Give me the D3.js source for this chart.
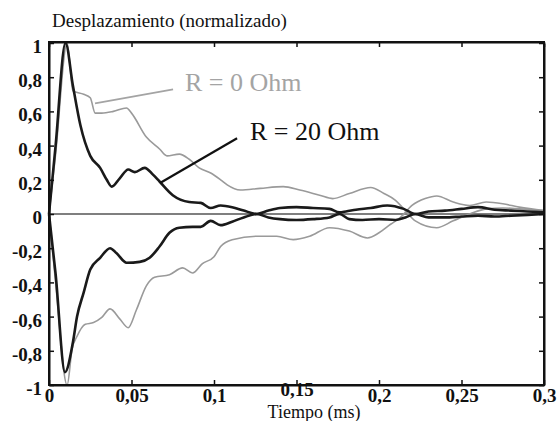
<!DOCTYPE html>
<html>
<head>
<meta charset="utf-8">
<script src="https://cdnjs.cloudflare.com/ajax/libs/d3/7.8.5/d3.min.js"></script>
<style>
  body { margin: 0; background: #fff; }
</style>
</head>
<body>
<div id="chart"></div>
<script>
// time (ms), displacement (normalised) - envelopes
var r20Upper = [[0,0],[0.004,0.4],[0.01,1],[0.0145,0.75],[0.019,0.52],[0.025,0.34],[0.031,0.27],[0.035,0.2],
  [0.038,0.16],[0.043,0.21],[0.048,0.26],[0.052,0.245],[0.058,0.27],[0.063,0.23],[0.067,0.19],[0.075,0.11],
  [0.085,0.07],[0.092,0.065],[0.098,0.035],[0.104,0.05],[0.111,0.04],[0.118,0.02],[0.126,0],[0.133,0.02],
  [0.14,0.035],[0.15,0.04],[0.16,0.035],[0.17,0.03],[0.176,0.01],[0.18,0.015],[0.186,0.025],[0.195,0.035],
  [0.205,0.05],[0.215,0.03],[0.222,0],[0.23,0.015],[0.24,0.02],[0.25,0.03],[0.26,0.04],[0.27,0.025],
  [0.28,0.02],[0.29,0.015],[0.3,0.01]];

var r20Lower = [[0,0],[0.004,-0.35],[0.0097,-0.925],[0.0145,-0.75],[0.017,-0.6],[0.021,-0.46],[0.025,-0.325],
  [0.031,-0.256],[0.037,-0.2],[0.041,-0.23],[0.047,-0.285],[0.055,-0.28],[0.061,-0.256],[0.067,-0.19],
  [0.073,-0.11],[0.079,-0.08],[0.087,-0.075],[0.092,-0.075],[0.098,-0.04],[0.104,-0.065],[0.111,-0.045],
  [0.118,-0.02],[0.126,0],[0.133,-0.02],[0.14,-0.03],[0.15,-0.035],[0.16,-0.03],[0.17,-0.02],[0.176,0],
  [0.182,-0.03],[0.19,-0.035],[0.2,-0.03],[0.21,-0.035],[0.216,-0.02],[0.222,0],[0.23,-0.02],[0.24,-0.02],
  [0.25,-0.015],[0.26,-0.01],[0.27,-0.015],[0.28,-0.01],[0.3,0]];

var r0Upper = [[0,0],[0.004,0.35],[0.011,1],[0.0145,0.72],[0.021,0.7],[0.025,0.68],[0.028,0.59],[0.032,0.59],
  [0.039,0.6],[0.047,0.62],[0.05,0.59],[0.059,0.45],[0.067,0.38],[0.0715,0.34],[0.079,0.35],[0.085,0.32],
  [0.091,0.27],[0.098,0.24],[0.104,0.2],[0.108,0.17],[0.116,0.14],[0.128,0.15],[0.142,0.16],[0.152,0.14],
  [0.164,0.11],[0.172,0.09],[0.182,0.12],[0.195,0.155],[0.203,0.12],[0.21,0.08],[0.215,0.03],[0.222,-0.04],
  [0.235,-0.08],[0.245,-0.04],[0.255,0],[0.265,0.03],[0.275,0.035],[0.285,0.03],[0.3,0.02]];

var r0Lower = [[0,0],[0.004,-0.4],[0.011,-1],[0.014,-0.79],[0.017,-0.715],[0.022,-0.645],[0.027,-0.635],
  [0.032,-0.605],[0.037,-0.555],[0.043,-0.615],[0.048,-0.665],[0.053,-0.56],[0.059,-0.42],[0.064,-0.37],
  [0.073,-0.355],[0.081,-0.315],[0.087,-0.345],[0.093,-0.29],[0.1,-0.25],[0.104,-0.19],[0.111,-0.15],
  [0.126,-0.13],[0.138,-0.13],[0.148,-0.15],[0.158,-0.13],[0.17,-0.08],[0.182,-0.1],[0.193,-0.14],[0.2,-0.11],
  [0.207,-0.06],[0.213,-0.02],[0.22,0.05],[0.228,0.09],[0.235,0.105],[0.245,0.07],[0.255,0.05],[0.265,0.07],
  [0.275,0.06],[0.285,0.04],[0.3,0.02]];

var xTicks = [0, 0.05, 0.1, 0.15, 0.2, 0.25, 0.3];
var xTickLabels = ["0", "0,05", "0,1", "0,15", "0,2", "0,25", "0,3"];
var yTicks = [1, 0.8, 0.6, 0.4, 0.2, 0, -0.2, -0.4, -0.6, -0.8, -1];
var yTickLabels = ["1", "0,8", "0,6", "0,4", "0,2", "0", "-0,2", "-0,4", "-0,6", "-0,8", "-1"];

// labels with leader lines, anchored in data units
var notes = [
  {text: "R = 0 Ohm", color: "#a4a4a4", at: [0.0824, 0.717], from: [0.0279, 0.647], to: [0.0752, 0.729]},
  {text: "R = 20 Ohm", color: "#111", at: [0.1218, 0.431], from: [0.0673, 0.181], to: [0.114, 0.443]}
];

var serif = "'Liberation Serif', 'Times New Roman', Times, serif";
var svgWidth = 558, svgHeight = 421;
var margin = {top: 42, right: 14, bottom: 36, left: 49};
var width = svgWidth - margin.left - margin.right;
var height = svgHeight - margin.top - margin.bottom;

var svg = d3.select("#chart").append("svg")
  .attr("width", svgWidth)
  .attr("height", svgHeight)
  .style("display", "block");

svg.append("rect").attr("width", svgWidth).attr("height", svgHeight).attr("fill", "#fff");

var g = svg.append("g")
  .attr("transform", "translate(" + margin.left + "," + margin.top + ")");

var x = d3.scaleLinear().domain([0, 0.3]).range([0, width]);
var y = d3.scaleLinear().domain([-1, 1]).range([height, 1]);

// zero line
g.append("line")
  .attr("x1", x(0)).attr("x2", x(0.3))
  .attr("y1", y(0)).attr("y2", y(0))
  .attr("stroke", "#555").attr("stroke-width", 1.5);

var line = d3.line().x(d => x(d[0])).y(d => y(d[1])).curve(d3.curveMonotoneX);

[r0Upper, r0Lower].forEach(function(s) {
  g.append("path").datum(s)
    .attr("d", line)
    .attr("fill", "none")
    .attr("stroke", "#9a9a9a")
    .attr("stroke-width", 1.6);
});
[r20Upper, r20Lower].forEach(function(s) {
  g.append("path").datum(s)
    .attr("d", line)
    .attr("fill", "none")
    .attr("stroke", "#1a1a1a")
    .attr("stroke-width", 2.6)
    .attr("stroke-linejoin", "round");
});

// axes
var xAxis = g.append("g")
  .attr("transform", "translate(0," + height + ")")
  .call(d3.axisBottom(x).tickValues(xTicks).tickSizeInner(-5).tickSizeOuter(0).tickPadding(4)
    .tickFormat((d, i) => xTickLabels[i]));
g.append("g")
  .call(d3.axisTop(x).tickValues(xTicks).tickSizeInner(-5).tickSizeOuter(0).tickFormat(""));
var yAxis = g.append("g")
  .call(d3.axisLeft(y).tickValues(yTicks).tickSizeInner(-5).tickSizeOuter(0).tickPadding(7)
    .tickFormat((d, i) => yTickLabels[i]));
g.append("g")
  .attr("transform", "translate(" + width + ",0)")
  .call(d3.axisRight(y).tickValues(yTicks).tickSizeInner(-5).tickSizeOuter(0).tickFormat(""));

g.selectAll(".domain").attr("stroke", "#111").attr("stroke-width", 2);
g.selectAll(".tick line").attr("stroke", "#111").attr("stroke-width", 1.5);
g.selectAll(".tick text")
  .attr("font-family", serif)
  .attr("font-size", 19)
  .attr("font-weight", "bold")
  .attr("fill", "#111");
yAxis.selectAll(".tick text").attr("dy", "0.5em");
// "0,15" sits a little higher in the original, above the axis title
xAxis.selectAll(".tick text").filter(d => d === 0.15).attr("y", -3);

// frame
g.append("rect")
  .attr("width", width).attr("height", height)
  .attr("fill", "none").attr("stroke", "#111").attr("stroke-width", 2);

// annotations
notes.forEach(function(n) {
  g.append("line")
    .attr("x1", x(n.from[0])).attr("y1", y(n.from[1]))
    .attr("x2", x(n.to[0])).attr("y2", y(n.to[1]))
    .attr("stroke", n.color).attr("stroke-width", n.color === "#111" ? 2.2 : 1.8);
  g.append("text")
    .attr("x", x(n.at[0])).attr("y", y(n.at[1]))
    .attr("font-family", serif)
    .attr("font-size", 26)
    .attr("fill", n.color)
    .text(n.text);
});

// titles
svg.append("text")
  .attr("x", 52).attr("y", 27)
  .attr("font-family", serif)
  .attr("font-size", 19)
  .attr("fill", "#111")
  .text("Desplazamiento (normalizado)");

svg.append("text")
  .attr("x", 314).attr("y", 418)
  .attr("text-anchor", "middle")
  .attr("font-family", serif)
  .attr("font-size", 18)
  .attr("fill", "#111")
  .text("Tiempo (ms)");
</script>
</body>
</html>
